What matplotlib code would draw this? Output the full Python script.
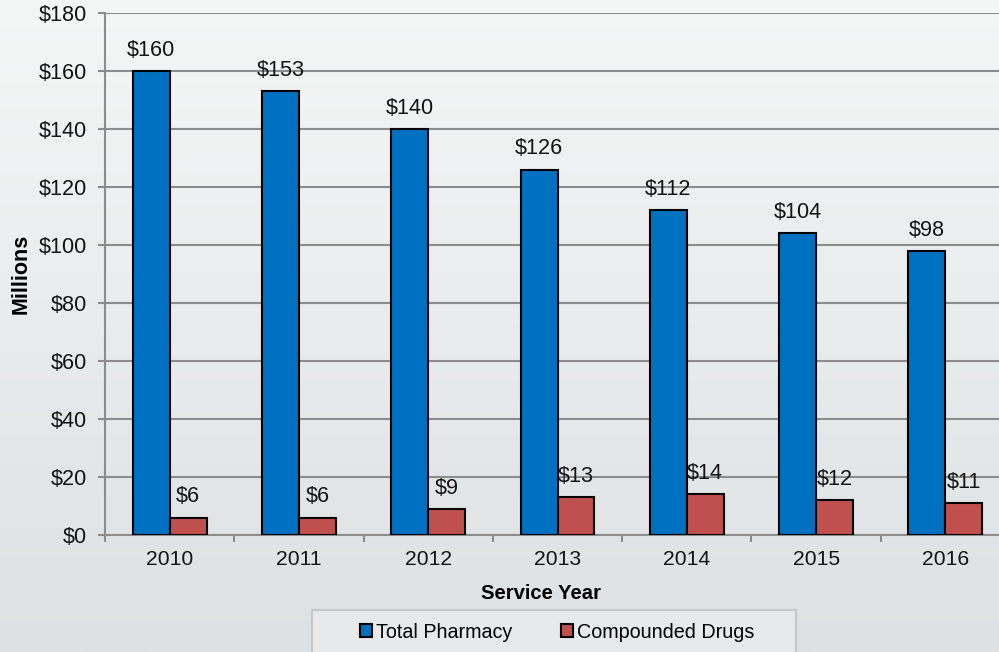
import matplotlib
matplotlib.use("Agg")
import matplotlib.pyplot as plt
import numpy as np
from matplotlib.patches import Rectangle, Patch

plt.rcParams['font.family'] = ['Liberation Sans', 'DejaVu Sans']

years = ['2010', '2011', '2012', '2013', '2014', '2015', '2016']
total_pharmacy = [160, 153, 140, 126, 112, 104, 98]
compounded_drugs = [6, 6, 9, 13, 14, 12, 11]
series_names = ['Total Pharmacy', 'Compounded Drugs']
yticks = list(range(0, 181, 20))

blue = '#0070c0'
red = '#c0504d'
grid_col = '#8c8c8c'

fig = plt.figure(figsize=(9.99, 6.52), dpi=100)

# soft vertical gradient behind everything
bg = fig.add_axes([0, 0, 1, 1], zorder=-10)
grad = np.linspace(0, 1, 256).reshape(-1, 1)
top = np.array([245, 246, 246]) / 255
bot = np.array([221, 225, 227]) / 255
img = top + (bot - top) * grad[:, :, None]
bg.imshow(img, aspect='auto', extent=[0, 1, 0, 1])
bg.axis('off')

ax = fig.add_axes([105 / 999, 1 - 535 / 652, 905 / 999, 522 / 652])
ax.patch.set_alpha(0)

x = np.arange(len(years))
w = 0.286
ax.bar(x - w / 2, total_pharmacy, w, color=blue, edgecolor='black', linewidth=1.5, zorder=3)
ax.bar(x + w / 2, compounded_drugs, w, color=red, edgecolor='black', linewidth=1.5, zorder=3)

for i in range(len(years)):
    ax.annotate('$%d' % total_pharmacy[i], (x[i] - w / 2, total_pharmacy[i]),
                xytext=(0, 11), textcoords='offset points', ha='center', va='baseline',
                fontsize=15.6, color='#141414', zorder=4)
    ax.annotate('$%d' % compounded_drugs[i], (x[i] + w / 2, compounded_drugs[i]),
                xytext=(0, 11), textcoords='offset points', ha='center', va='baseline',
                fontsize=15.6, color='#141414', zorder=4)

ax.set_xlim(-0.5, len(years) - 0.5)
ax.set_ylim(0, 180)
ax.set_yticks(yticks)
ax.set_yticklabels(['$%d' % v for v in yticks])
ax.yaxis.grid(True, color=grid_col, linewidth=1.5, zorder=0)

# tick marks between categories, labels at category centres
ax.set_xticks(np.arange(-0.5, len(years), 1.0))
ax.set_xticklabels([])
ax.set_xticks(x, minor=True)
ax.set_xticklabels(years, minor=True)
ax.tick_params(axis='x', which='major', length=5, color=grid_col, width=1.5)
ax.tick_params(axis='x', which='minor', length=0, pad=11, labelsize=15.2, labelcolor='#141414')
ax.tick_params(axis='y', length=5, color=grid_col, width=1.5, pad=8, labelsize=15.6,
               labelcolor='#141414')

for side in ['top', 'right']:
    ax.spines[side].set_visible(False)
for side in ['left', 'bottom']:
    ax.spines[side].set_color(grid_col)
    ax.spines[side].set_linewidth(1.5)

ax.set_ylabel('Millions', fontsize=15.5, fontweight='bold')
ax.yaxis.set_label_coords(-(105 - 32) / 905, 0.5)
ax.set_xlabel('Service Year', fontsize=14.6, fontweight='bold')
ax.xaxis.set_label_coords((541 - 105) / 905, -49 / 522)

# legend box at the bottom
fig.patches.append(Rectangle((312 / 999, -0.05), 484 / 999, 1 - 610 / 652 + 0.05,
                             transform=fig.transFigure, facecolor='#e7e9ea',
                             edgecolor='#c4c6c7', linewidth=1.5, zorder=1))
handles = [Patch(facecolor=blue, edgecolor='black', linewidth=1.5),
           Patch(facecolor=red, edgecolor='black', linewidth=1.5)]
fig.legend(handles, series_names, loc='center', bbox_to_anchor=(557 / 999, 1 - 632 / 652),
           ncol=2, frameon=False, fontsize=14.2, handlelength=0.6, handleheight=0.6,
           handletextpad=0.2, columnspacing=2.5)

plt.savefig('out.png', dpi=100)
